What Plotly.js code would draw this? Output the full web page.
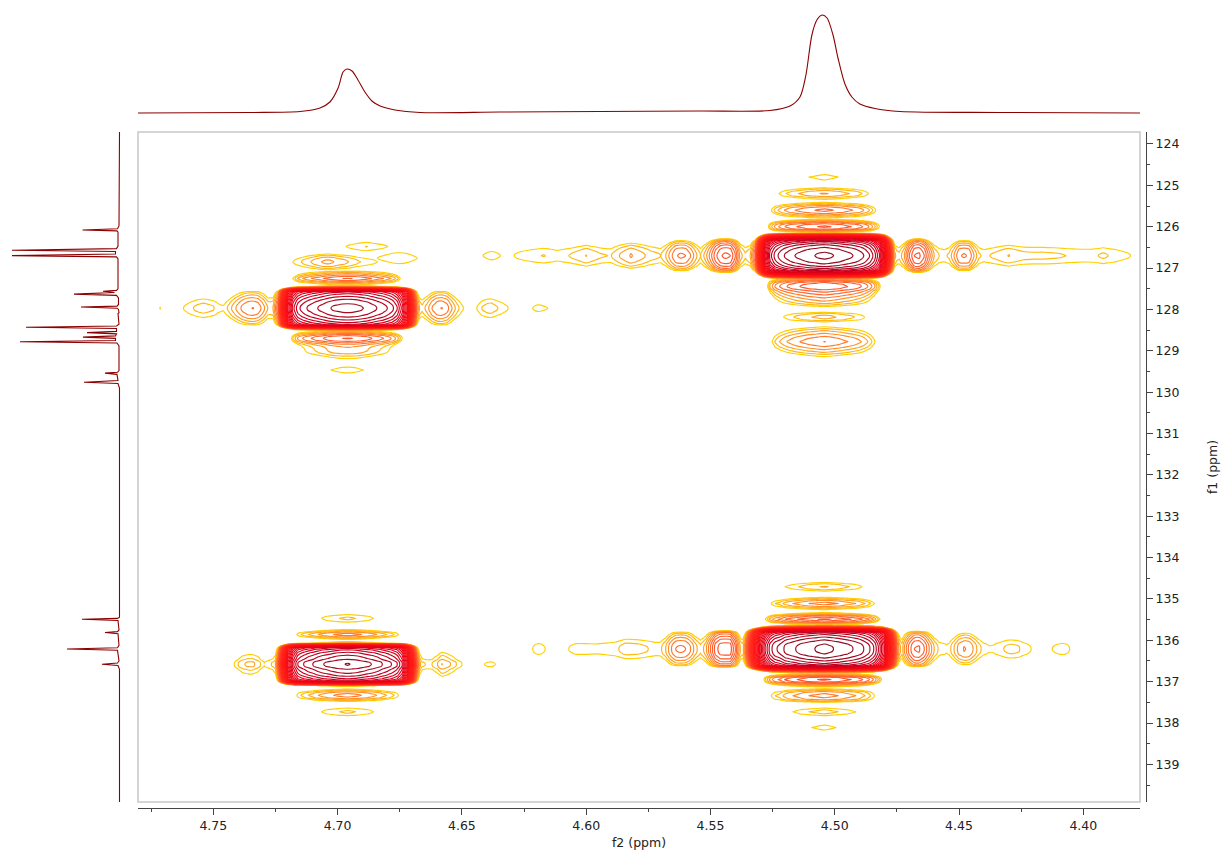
<!DOCTYPE html>
<html>
<head>
<meta charset="utf-8">
<script src="https://cdn.plot.ly/plotly-3.0.1.min.js"></script>
<style>html,body{margin:0;padding:0;background:#fff}#chart{width:1226px;height:850px}</style>
</head>
<body>
<div id="chart"></div>
<script>
// Slices through each 2D peak: [ppm, height in contour levels]
const topRightF2 = [[4.6425,0],[4.6415,1],[4.638,1.4],[4.6345,1],[4.632,0.2],[4.629,1],[4.626,1.4],[4.622,1.7],[4.618,2],[4.617,2.04],[4.614,1.8],[4.612,1.6],[4.61,1.7],[4.606,2.1],[4.602,2.7],[4.6,3.03],[4.598,2.7],[4.594,2.1],[4.59,1.95],[4.586,3.2],[4.582,4.1],[4.578,3.4],[4.574,2.5],[4.57,2],[4.568,3],[4.566,4.6],[4.564,5.9],[4.562,6.15],[4.56,6],[4.558,5],[4.556,3.4],[4.554,2],[4.552,3.5],[4.55,5.5],[4.548,7.6],[4.546,8.9],[4.544,9.2],[4.542,9],[4.54,7],[4.538,3.5],[4.536,2.2],[4.534,3],[4.532,7],[4.53,19],[4.528,28],[4.526,32.5],[4.524,34.4],[4.522,35.4],[4.52,36.1],[4.518,36.6],[4.516,37],[4.514,37.3],[4.512,37.6],[4.51,37.85],[4.508,38],[4.506,38.2],[4.504,38.3],[4.502,38.15],[4.5,37.95],[4.498,37.75],[4.496,37.45],[4.494,37.2],[4.492,36.9],[4.49,36.5],[4.488,35.9],[4.486,35],[4.484,33.5],[4.482,31],[4.48,25],[4.478,14],[4.476,3.5],[4.475,2.5],[4.474,2.3],[4.472,4],[4.47,7],[4.468,9],[4.466,9.2],[4.464,8],[4.462,5.5],[4.46,3],[4.458,2],[4.456,1.7],[4.454,2.2],[4.452,4],[4.45,5.9],[4.448,6.1],[4.446,5.9],[4.444,4],[4.442,2.2],[4.44,1.7],[4.436,2.2],[4.432,2.8],[4.43,3.04],[4.428,2.8],[4.424,2.4],[4.42,2.3],[4.416,2.3],[4.412,2.2],[4.408,2.05],[4.406,1.95],[4.404,1.9],[4.4,1.8],[4.396,1.85],[4.394,2],[4.392,2.2],[4.39,2],[4.388,1.85],[4.384,1.4],[4.381,1],[4.379,0]];
const topRightF1 = [[124.7,0],[124.74,1],[124.8,1.5],[124.87,1],[124.92,-0.5],[125,-1],[125.06,1],[125.1,2.5],[125.15,3.6],[125.2,4.1],[125.25,3.6],[125.3,2.2],[125.34,1],[125.37,0.4],[125.41,1],[125.45,2.7],[125.5,4.6],[125.55,5.8],[125.6,6.3],[125.65,5.8],[125.7,4.6],[125.75,2.7],[125.79,1],[125.81,0.7],[125.84,2.5],[125.9,6],[125.95,7.7],[126,8.2],[126.05,7.5],[126.1,4.5],[126.13,1.2],[126.145,0.6],[126.17,6],[126.2,16],[126.25,25],[126.3,31],[126.35,33.9],[126.4,35.3],[126.45,36.3],[126.5,37],[126.55,37.55],[126.6,37.9],[126.65,38.2],[126.7,38.3],[126.75,38.2],[126.8,37.9],[126.85,37.55],[126.9,37],[126.95,36.3],[127,35.3],[127.05,33.9],[127.1,31],[127.15,25],[127.2,16],[127.24,6],[127.27,3.5],[127.3,6],[127.35,8],[127.4,8.8],[127.45,9],[127.5,8.5],[127.55,7.5],[127.6,6.7],[127.65,6],[127.7,5.3],[127.75,4.6],[127.8,4],[127.85,3.2],[127.9,2],[127.93,1],[127.97,-1],[128.04,-0.5],[128.07,1],[128.1,2.3],[128.15,3.2],[128.19,3.4],[128.25,2.8],[128.3,1],[128.34,-1],[128.4,0],[128.42,1],[128.5,2.8],[128.55,3.6],[128.6,4.3],[128.65,5],[128.7,5.5],[128.78,6.02],[128.85,5.5],[128.9,5],[128.95,4.3],[129,3.6],[129.05,2.8],[129.1,1.7],[129.14,1],[129.2,-1]];

const topLeftF2 = [[4.7725,0],[4.7718,0.8],[4.7714,1.05],[4.771,0.8],[4.77,0],[4.764,0],[4.762,1],[4.76,1.6],[4.758,2],[4.756,2.4],[4.754,2.6],[4.752,2.4],[4.75,2.1],[4.748,1.5],[4.746,1.2],[4.744,2.2],[4.742,3.4],[4.74,4.5],[4.738,5.4],[4.736,5.9],[4.734,6.03],[4.732,5.7],[4.73,4.5],[4.728,2.9],[4.726,3],[4.724,7],[4.722,18],[4.72,26],[4.718,30.5],[4.716,32.6],[4.714,33.5],[4.712,34.1],[4.71,34.6],[4.708,35],[4.706,35.4],[4.704,35.8],[4.702,36.1],[4.7,36.3],[4.698,36.45],[4.696,36.5],[4.694,36.45],[4.692,36.3],[4.69,36.05],[4.688,35.8],[4.686,35.4],[4.684,34.95],[4.682,34.6],[4.68,34],[4.678,33.3],[4.676,32],[4.674,29.5],[4.672,25],[4.67,15],[4.668,5],[4.667,2.9],[4.666,2.3],[4.664,3.5],[4.662,5],[4.66,5.9],[4.658,6.03],[4.656,5.5],[4.654,4],[4.652,2.5],[4.65,1.3],[4.648,0.3],[4.645,0],[4.644,1],[4.642,2],[4.64,2.5],[4.638,2.6],[4.636,2.1],[4.634,1.7],[4.632,1.2],[4.63,0.5],[4.628,0],[4.623,0],[4.6215,1],[4.6195,1.3],[4.617,1.1],[4.6155,1],[4.614,0]];
const topLeftF1 = [[127.05,0],[127.07,1],[127.1,2.8],[127.15,4.5],[127.2,6],[127.25,7.05],[127.3,6],[127.35,4],[127.4,1.5],[127.42,0.6],[127.45,4],[127.48,12],[127.52,25],[127.57,31.8],[127.62,33],[127.67,33.8],[127.72,34.55],[127.77,35.2],[127.82,35.7],[127.87,36.05],[127.92,36.4],[127.97,36.5],[128.02,36.4],[128.07,36.05],[128.12,35.7],[128.17,35.2],[128.22,34.55],[128.27,33.8],[128.32,33],[128.37,31.8],[128.42,25],[128.46,12],[128.5,3],[128.52,1.5],[128.54,3],[128.58,5],[128.62,6.6],[128.66,7.7],[128.7,8.05],[128.75,7.6],[128.8,6.2],[128.85,4.8],[128.9,4.1],[128.95,3.8],[129,3.7],[129.05,3.4],[129.1,2.6],[129.15,1.6],[129.19,1],[129.22,-0.5],[129.38,0],[129.395,1],[129.465,1.5],[129.535,1],[129.56,0]];

const bottomRightF2 = [[4.623,0],[4.622,0.9],[4.62,1.3],[4.618,1.3],[4.617,1.1],[4.6165,1],[4.615,0],[4.61,0],[4.607,1],[4.604,1.4],[4.6,1.4],[4.596,1.3],[4.592,1.5],[4.588,1.8],[4.584,2.5],[4.58,2.4],[4.576,2.1],[4.572,1.7],[4.57,1.8],[4.568,3],[4.566,4.8],[4.564,6],[4.562,6.15],[4.56,6],[4.558,5],[4.556,3.4],[4.554,2.2],[4.552,3.5],[4.55,6],[4.548,8.5],[4.546,9.5],[4.544,9.6],[4.542,9.5],[4.54,7],[4.538,3],[4.537,2.4],[4.536,5],[4.534,13],[4.532,21],[4.53,27],[4.528,31],[4.526,33.5],[4.524,34.8],[4.522,35.3],[4.52,36.2],[4.518,36.6],[4.516,36.95],[4.514,37.3],[4.512,37.6],[4.51,37.85],[4.508,38],[4.506,38.2],[4.504,38.3],[4.502,38.15],[4.5,37.95],[4.498,37.75],[4.496,37.45],[4.494,37.2],[4.492,36.9],[4.49,36.5],[4.488,35.9],[4.486,35.1],[4.484,33.8],[4.482,31.5],[4.48,28],[4.478,20],[4.476,11],[4.475,6],[4.474,3.5],[4.473,2.4],[4.472,4],[4.47,6.5],[4.468,8],[4.466,8.1],[4.464,7],[4.462,5],[4.46,3],[4.458,1.7],[4.456,1.4],[4.455,1.2],[4.454,1.5],[4.452,3],[4.45,4.5],[4.448,5.05],[4.446,4.9],[4.444,3.8],[4.442,2.4],[4.44,1.5],[4.438,1.15],[4.436,1.2],[4.434,1.6],[4.432,2],[4.43,2.25],[4.428,2.25],[4.426,2.1],[4.424,1.6],[4.421,1],[4.418,0],[4.414,0],[4.4125,1],[4.41,1.3],[4.407,1.3],[4.405,0.9],[4.403,0]];
const bottomRightF1 = [[134.58,-0.5],[134.6,1],[134.65,2.5],[134.706,3.1],[134.76,2.5],[134.81,1],[134.85,-0.5],[134.93,-0.5],[134.96,1],[135,2.8],[135.05,4.5],[135.11,5.5],[135.17,4.5],[135.22,2.8],[135.26,1],[135.28,0.3],[135.33,1],[135.37,3.5],[135.42,6.5],[135.49,8.2],[135.55,6.5],[135.6,3],[135.63,1.4],[135.67,8],[135.71,18],[135.75,28],[135.81,33.7],[135.86,35],[135.92,36],[135.99,37],[136.03,37.4],[136.09,38],[136.15,38.25],[136.21,38.3],[136.27,38.25],[136.33,38],[136.39,37.4],[136.43,37],[136.5,36],[136.56,35],[136.61,33.7],[136.67,28],[136.71,18],[136.75,8],[136.79,1.4],[136.82,3],[136.86,6],[136.9,8.5],[136.95,9.2],[137,8.5],[137.05,6],[137.1,3],[137.13,1],[137.15,0.5],[137.17,1],[137.21,3],[137.26,4.7],[137.34,5.5],[137.42,4.7],[137.47,3],[137.5,1],[137.54,-0.5],[137.63,0],[137.64,1],[137.68,2],[137.73,2.5],[137.78,2],[137.82,1],[137.86,-0.5],[138.03,0],[138.05,1],[138.11,1.4],[138.17,1],[138.2,0]];

const bottomLeftF2 = [[4.743,0],[4.7416,1],[4.74,2],[4.738,2.9],[4.736,3.2],[4.734,3.2],[4.732,2.6],[4.73,1.4],[4.7295,1.05],[4.728,1.6],[4.726,2.2],[4.725,3],[4.724,7],[4.722,18],[4.72,26],[4.718,30.5],[4.716,33],[4.714,33.9],[4.712,34.5],[4.71,35],[4.708,35.5],[4.706,35.95],[4.704,36.2],[4.702,36.5],[4.7,36.8],[4.698,36.95],[4.696,37.05],[4.694,36.95],[4.692,36.8],[4.69,36.5],[4.688,36.2],[4.686,35.95],[4.684,35.5],[4.682,35],[4.68,34.5],[4.678,33.9],[4.676,33],[4.674,31],[4.672,26],[4.67,18],[4.668,7],[4.667,3.5],[4.666,2.2],[4.664,1.9],[4.662,2],[4.66,2.9],[4.658,4.03],[4.656,3.5],[4.654,2.8],[4.652,1.9],[4.65,1],[4.648,0],[4.642,0],[4.641,1],[4.6385,1.2],[4.6365,1],[4.635,0]];
const bottomLeftF1 = [[135.35,0],[135.38,1],[135.42,1.9],[135.47,2.2],[135.52,1.9],[135.56,1],[135.59,0],[135.7,0],[135.74,1],[135.78,3],[135.82,4.8],[135.86,5.5],[135.9,4.8],[135.94,3],[135.98,1],[136.02,0.5],[136.07,3],[136.1,15],[136.14,26],[136.18,31.5],[136.23,33],[136.29,34],[136.31,34.4],[136.36,35],[136.41,35.6],[136.46,36],[136.53,36.95],[136.58,37.05],[136.63,36.95],[136.7,36],[136.75,35.6],[136.8,35],[136.85,34.4],[136.87,34],[136.93,33],[136.98,31.5],[137.02,26],[137.06,15],[137.09,3],[137.13,0],[137.18,1],[137.22,3],[137.27,4.8],[137.33,5.5],[137.39,4.8],[137.44,3],[137.48,1],[137.5,-0.5],[137.6,0],[137.64,1],[137.68,1.9],[137.73,2.2],[137.78,1.9],[137.82,1],[137.85,0]];

// Small off-centre features beside the upper left peak
const shoulderF2 = [[4.722,-1],[4.718,1],[4.714,2.2],[4.71,3.2],[4.708,3.7],[4.706,4.1],[4.704,4.25],[4.702,4.1],[4.7,3.7],[4.696,3.1],[4.692,2.2],[4.688,1.6],[4.684,1],[4.68,-1]];
const shoulderF1 = [[126.6,-1],[126.66,1],[126.7,2.3],[126.75,3.3],[126.8,4],[126.85,4.25],[126.9,4],[126.95,3.3],[127,2.3],[127.04,1],[127.08,-1]];
const tailF2 = [[4.686,0],[4.684,1],[4.68,1.2],[4.676,1.3],[4.672,1.25],[4.668,1],[4.666,0]];
const tailF1 = [[126.6,0],[126.63,1],[126.76,1.3],[126.89,1],[126.92,0]];
const islandF2 = [[4.698,0],[4.6966,1],[4.692,1.7],[4.6884,2.04],[4.685,1.7],[4.6798,1],[4.678,0]];
const islandF1 = [[126.35,0],[126.38,1],[126.44,1.8],[126.48,2.04],[126.52,1.8],[126.58,1],[126.6,0]];

const peakTops = [38.3, 36.5, 38.3, 37.05, 4.25, 1.3, 2.04];

// 1D projections
const f2SpectrumPpm = [4.7803,4.7352,4.7151,4.7071,4.7031,4.6998,4.6978,4.6962,4.6942,4.6918,4.689,4.6862,4.6829,4.6769,4.6668,4.6347,4.5944,4.5542,4.5261,4.518,4.514,4.5116,4.5092,4.5072,4.5051,4.5031,4.5007,4.4987,4.4959,4.4931,4.4899,4.4838,4.4738,4.4335,4.3772];
const f2SpectrumHeight = [0,0.5,1.5,5,11,25,41,44,42,33,21,12,7,3,0.5,1,1.5,2,2.5,7,16,38,78,93,98,95,78,55,29,16,9,4.5,1.5,0.5,0];
const f1SpectrumPpm = [123.71,125.98,126.05,126.08,126.1,126.13,126.47,126.53,126.57,126.6,126.66,126.7,126.73,126.78,127.5,127.54,127.56,127.59,127.63,127.66,127.72,127.88,127.92,127.94,127.97,128,128.08,128.1,128.36,128.4,128.43,128.46,128.53,128.56,128.59,128.64,128.67,128.7,128.75,128.78,128.81,128.88,129.48,129.52,129.54,129.57,129.72,129.76,129.79,129.9,135.44,135.47,135.49,135.52,135.75,135.79,135.81,135.84,136.12,136.18,136.21,136.24,136.5,136.55,136.58,136.61,136.7,139.91];
const f1SpectrumHeight = [0,0.5,2,37,2.5,1.5,1.5,3,107.5,4,4,107.5,3,1.5,1.5,3,16.5,5,45.5,3,1,1,2.5,38.5,2.5,1,0.5,1.5,0.5,3,93.5,3,3,32.5,3,4,36.5,4,4,99.5,2.5,0.5,0.5,2,14.5,2.5,1.5,35.5,1.5,0,0,2,37.5,1.5,0.5,2,14.5,1.5,0.5,2,52.5,2,0.5,2,17.5,1.5,0,0];

const levelColors = [[0,'#ffd000'],[0.05,'#ffa820'],[0.13,'#ff6a30'],[0.3,'#ff3020'],[0.55,'#ff1010'],[0.78,'#e2001a'],[0.86,'#c40020'],[0.93,'#a80c24'],[1,'#8b0a1e']];

function peakTrace(f2Table, f1Table, top) {
  const f2 = [...f2Table].reverse();
  const x = f2.map(p => p[0]);
  const y = f1Table.map(p => p[0]);
  const z = f1Table.map(r => f2.map(c => c[1] + r[1] - top));
  return {type:'contour', x, y, z, xaxis:'x', yaxis:'y', zmin:1, zmax:38, zauto:false, autocontour:false,
    contours:{start:1, end:38, size:1, coloring:'lines'}, colorscale:levelColors, showscale:false,
    line:{width:1.15, smoothing:0.8}, hoverinfo:'skip'};
}

const traces = [
  peakTrace(topRightF2, topRightF1, peakTops[0]),
  peakTrace(topLeftF2, topLeftF1, peakTops[1]),
  peakTrace(bottomRightF2, bottomRightF1, peakTops[2]),
  peakTrace(bottomLeftF2, bottomLeftF1, peakTops[3]),
  peakTrace(shoulderF2, shoulderF1, peakTops[4]),
  peakTrace(tailF2, tailF1, peakTops[5]),
  peakTrace(islandF2, islandF1, peakTops[6]),
  {type:'scatter', mode:'lines', x:f2SpectrumPpm, y:f2SpectrumHeight, xaxis:'x2', yaxis:'y2',
    line:{color:'#8b0000', width:1.1, shape:'spline', smoothing:0.8}, hoverinfo:'skip'},
  {type:'scatter', mode:'lines', x:f1SpectrumHeight, y:f1SpectrumPpm, xaxis:'x3', yaxis:'y3',
    line:{color:'#8b0000', width:1.1}, hoverinfo:'skip'}
];

const W = 1226, H = 850;
const f2Range = [4.7803, 4.3772];
const f1Range = [139.91, 123.71];
const plotX = [138/W, 1140/W];
const plotY = [(H-802)/H, (H-132)/H];
const tickFont = {family:'"DejaVu Sans", Verdana, sans-serif', size:12.5, color:'#222'};

const layout = {
  width:W, height:H, margin:{l:0,r:0,t:0,b:0}, showlegend:false,
  paper_bgcolor:'#fff', plot_bgcolor:'#fff',
  xaxis:{domain:plotX, range:f2Range, anchor:'free', position:(H-808)/H, showgrid:false, zeroline:false,
    showline:true, linecolor:'#444', linewidth:1, ticks:'outside', ticklen:6, tickcolor:'#444', tickwidth:1,
    tick0:4.4, dtick:0.05, tickformat:'.2f', tickfont:tickFont,
    minor:{dtick:0.025, ticks:'outside', ticklen:3, tickcolor:'#444', tickwidth:1, showgrid:false},
    title:{text:'f2 (ppm)', font:tickFont, standoff:6}},
  yaxis:{domain:plotY, range:f1Range, anchor:'free', position:1146/W, side:'right', showgrid:false, zeroline:false,
    showline:true, linecolor:'#444', linewidth:1, ticks:'outside', ticklen:6, tickcolor:'#444', tickwidth:1,
    tick0:124, dtick:1, tickfont:tickFont,
    minor:{dtick:0.5, ticks:'outside', ticklen:3, tickcolor:'#444', tickwidth:1, showgrid:false},
    title:{text:'f1 (ppm)', font:tickFont, standoff:29}},
  xaxis2:{domain:plotX, range:f2Range, anchor:'y2', visible:false},
  yaxis2:{domain:[(H-115)/H,(H-10)/H], range:[-2,103], anchor:'x2', visible:false},
  xaxis3:{domain:[0,125/W], range:[119.5,-5.5], anchor:'y3', visible:false},
  yaxis3:{domain:plotY, range:f1Range, anchor:'x3', visible:false},
  shapes:[{type:'rect', xref:'paper', yref:'paper', x0:138/W, x1:1140/W, y0:(H-802)/H, y1:(H-132)/H,
    line:{color:'#c8c8c8', width:1.5}, fillcolor:'rgba(0,0,0,0)', layer:'above'}]
};

Plotly.newPlot('chart', traces, layout, {displayModeBar:false, responsive:false});
</script>
</body>
</html>
